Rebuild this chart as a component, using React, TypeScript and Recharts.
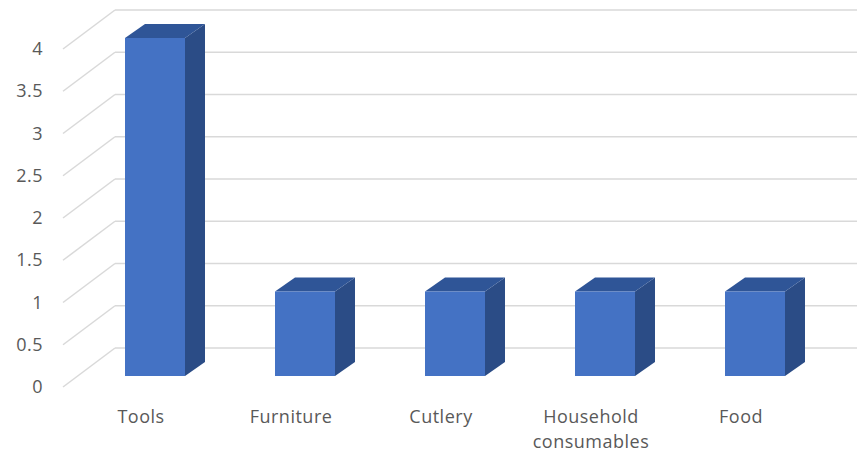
import { BarChart, Bar, XAxis, YAxis, CartesianGrid } from 'recharts'

const categories = ['Tools', 'Furniture', 'Cutlery', 'Household consumables', 'Food']
const counts = [4, 1, 1, 1, 1]
const yTicks = [0, 0.5, 1, 1.5, 2, 2.5, 3, 3.5, 4]

const data = categories.map((name, i) => ({ name, count: counts[i] }))

const font = '"Open Sans", sans-serif'
const textColor = '#595959'
const gridColor = '#d9d9d9'

// depth of the bar boxes and of the floor / back wall
const depthX = 20
const depthY = 14
const wallX = 115
const wallDy = 28
const floorX = 63
const floorDy = 11

function Box3D(props: any) {
  const { x, y, width, height } = props
  if (height == null || height <= 0) return null
  const top = `${x},${y} ${x + depthX},${y - depthY} ${x + width + depthX},${y - depthY} ${x + width},${y}`
  const side = `${x + width},${y} ${x + width + depthX},${y - depthY} ${x + width + depthX},${y + height - depthY} ${x + width},${y + height}`
  return (
    <g>
      <polygon points={side} fill="#2B4C86" />
      <polygon points={top} fill="#2F5597" />
      <rect x={x} y={y} width={width} height={height} fill="#4472C4" />
    </g>
  )
}

function gridLine(props: any) {
  const { y1, key } = props
  return (
    <g key={key}>
      <line x1={floorX} y1={y1 + floorDy} x2={wallX} y2={y1 - wallDy} stroke={gridColor} strokeWidth={1.5} />
      <line x1={wallX} y1={y1 - wallDy} x2={857} y2={y1 - wallDy} stroke={gridColor} strokeWidth={1.5} />
    </g>
  )
}

function YTick(props: any) {
  const { y, payload } = props
  return (
    <text x={43} y={y + floorDy} dy={6} textAnchor="end" fontFamily={font} fontSize={18} fill={textColor} letterSpacing={0.5}>
      {payload.value}
    </text>
  )
}

function XTick(props: any) {
  const { x, payload } = props
  const value: string = payload.value
  const lines = value === 'Household consumables' ? ['Household', 'consumables'] : [value]
  return (
    <text x={x - 14} y={423} textAnchor="middle" fontFamily={font} fontSize={18} fill={textColor} letterSpacing={0.5}>
      {lines.map((l, i) => (
        <tspan key={l} x={x - 14} dy={i === 0 ? 0 : 25}>
          {l}
        </tspan>
      ))}
    </text>
  )
}

export default function App() {
  return (
    <div style={{ position: 'absolute', left: 0, top: 0, background: '#fff' }}>
      <BarChart width={857} height={458} data={data} margin={{ top: 38, right: 27, left: 0, bottom: 22 }} barCategoryGap={90}>
        <CartesianGrid vertical={false} horizontal={gridLine} />
        <XAxis dataKey="name" axisLine={false} tickLine={false} height={60} interval={0} tick={<XTick />} />
        <YAxis width={80} domain={[0, 4]} ticks={yTicks} axisLine={false} tickLine={false} tick={<YTick />} />
        <Bar dataKey="count" barSize={60} shape={<Box3D />} isAnimationActive={false} />
      </BarChart>
    </div>
  )
}
